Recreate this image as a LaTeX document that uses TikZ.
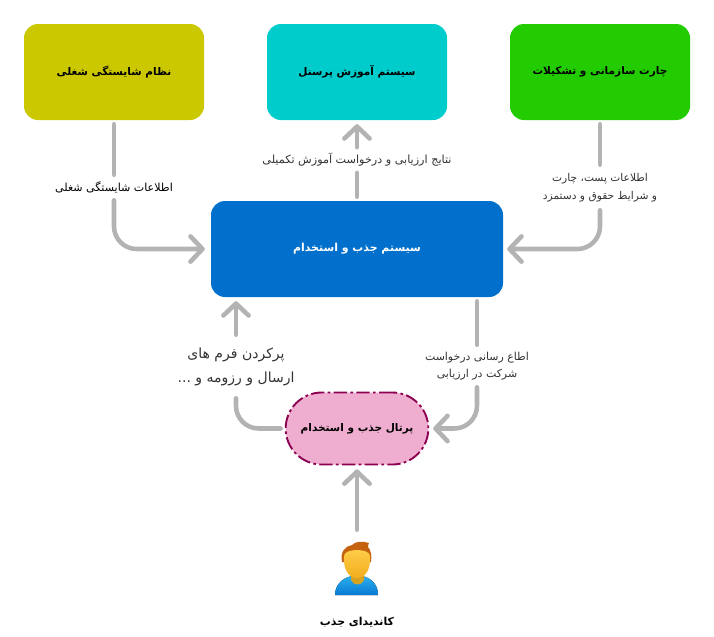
\documentclass[tikz,border=0pt]{standalone}
\usepackage{fontspec}
\usetikzlibrary{arrows.meta}
\setmainfont{DejaVu Sans}
\newfontfamily\arabicfont[Script=Arabic]{DejaVu Sans}
\TeXXeTstate=1
\newcommand{\fa}[1]{{\arabicfont\beginR #1\endR}}
\definecolor{yellowbox}{HTML}{CCC800}
\definecolor{cyanbox}{HTML}{00CCCC}
\definecolor{greenbox}{HTML}{22CC00}
\definecolor{bluebox}{HTML}{0070CC}
\definecolor{pinkbox}{HTML}{EFADD0}
\definecolor{pinkline}{HTML}{8B0050}
\definecolor{conncol}{HTML}{B3B3B3}
\definecolor{textcol}{HTML}{333333}
\definecolor{bodytop}{HTML}{2BB0EE}
\definecolor{bodybot}{HTML}{0A78D2}
\definecolor{neckcol}{HTML}{D6A420}
\definecolor{facetop}{HTML}{FFCE4A}
\definecolor{facebot}{HTML}{F2AE1E}
\definecolor{haircol}{HTML}{C4620F}
\pgfdeclarearrow{
  name = Chevron,
  parameters = {\the\pgfarrowlength,\the\pgfarrowwidth},
  setup code = {
    \pgfarrowssettipend{0.5\pgflinewidth}
    \pgfarrowssetlineend{0pt}
    \pgfarrowssavethe\pgfarrowlength
    \pgfarrowssavethe\pgfarrowwidth
  },
  drawing code = {
    \pgfsetroundcap\pgfsetroundjoin\pgfsetdash{}{0pt}
    \pgfpathmoveto{\pgfqpoint{-\pgfarrowlength}{0.5\pgfarrowwidth}}
    \pgfpathlineto{\pgfpointorigin}
    \pgfpathlineto{\pgfqpoint{-\pgfarrowlength}{-0.5\pgfarrowwidth}}
    \pgfusepathqstroke
  },
  defaults = {length=9pt, width=19pt}
}
\tikzset{
  sysbox/.style={rounded corners=10.5pt, minimum width=135pt, minimum height=72pt, inner sep=0pt, font=\fontsize{7.9}{10}\selectfont\bfseries},
  lbl/.style={inner sep=0pt, align=center, text=textcol, font=\fontsize{8.3}{13.5}\selectfont},
  conn/.style={draw=conncol, line width=3.4pt, line cap=round, rounded corners=17pt},
  tip/.style={-{Chevron}},
}
\begin{document}
\begin{tikzpicture}[x=0.75pt, y=-0.75pt]
  \useasboundingbox (0,0) rectangle (714,636);

  \node[sysbox, fill=yellowbox] (nezam) at (114,72) {\fa{نظام شایستگی شغلی}};
  \node[sysbox, fill=cyanbox] (amoozesh) at (357,72) {\fa{سیستم آموزش پرسنل}};
  \node[sysbox, fill=greenbox] (chart) at (600,72) {\fa{چارت سازمانی و تشکیلات}};
  \node[sysbox, fill=bluebox, text=white, minimum width=219pt, font=\fontsize{8.2}{10}\selectfont\bfseries] (jazb) at (357,249) {\fa{سیستم جذب و استخدام}};
  \node[fill=pinkbox, draw=pinkline, line width=1.4pt, dash pattern=on 10pt off 2.5pt on 2pt off 2.5pt,
    rounded corners=27pt, minimum width=107pt, minimum height=54pt, inner sep=0pt,
    font=\fontsize{7.9}{10}\selectfont\bfseries, text=black] (portal) at (357,428.5) {\fa{پرتال جذب و استخدام}};

  \node[lbl, text=black, minimum height=18.75pt] (lblnezam) at (114,187.5) {\fa{اطلاعات شایستگی شغلی}};
  \node[lbl, minimum height=18.75pt, font=\fontsize{8.4}{13.5}\selectfont] (lblamoozesh) at (357,160) {\fa{نتایج ارزیابی و درخواست آموزش تکمیلی}};
  \node[lbl, minimum height=33.75pt, font=\fontsize{8}{13.5}\selectfont] (lblchart) at (600,187.5) {\fa{اطلاعات پست، چارت}\\\fa{و شرایط حقوق و دستمزد}};
  \node[lbl, minimum height=47.25pt, font=\fontsize{10.5}{18}\selectfont] (lblform) at (236,366.5) {\fa{پرکردن فرم های}\\\fa{ارسال و رزومه و ...}};
  \node[lbl, minimum height=31.5pt, font=\fontsize{8.2}{12.5}\selectfont] (lblattend) at (477,366) {\fa{اطاع رسانی درخواست}\\\fa{شرکت در ارزیابی}};

  % candidate icon
  \node[minimum width=48pt, minimum height=58.5pt, inner sep=0pt] (cand) at (357,569) {};
  \fill[top color=bodytop, bottom color=bodybot] (335,595) .. controls (335,585) and (342,578) .. (352,576) -- (362,576) .. controls (372,578) and (378,585) .. (378,595) -- cycle;
  \fill[neckcol] (351,570) rectangle (364,580) (351,580) .. controls (353,586) and (362,586) .. (364,580) -- cycle;
  \fill[haircol] (342,562) .. controls (340,552) and (345,546) .. (352,545) .. controls (356,541) and (362,541) .. (369,543) .. controls (368,545) and (368,546) .. (368,547) .. controls (371,550) and (372,556) .. (371,562) -- cycle;
  \shade[top color=facetop, bottom color=facebot] (344,556) .. controls (344,548) and (370,548) .. (370,556) .. controls (371,570) and (365,578) .. (357,578) .. controls (349,578) and (343,570) .. (344,556) -- cycle;
  \node[lbl, text=black, font=\fontsize{8.2}{10}\selectfont\bfseries] (lblcand) at (357,622) {\fa{کاندیدای جذب}};

  \draw[conn, shorten <=3pt] (nezam.south) -- (lblnezam.north);
  \draw[conn, tip, shorten >=4.5pt] (lblnezam.south) |- (jazb.west);
  \draw[conn, shorten <=3pt] (chart.south) -- (lblchart.north);
  \draw[conn, tip, shorten >=3pt] (lblchart.south) |- (jazb.east);
  \draw[conn, shorten <=3pt] (jazb.north) -- (lblamoozesh.south);
  \draw[conn, tip, shorten >=3pt] (lblamoozesh.north) -- (amoozesh.south);
  \draw[conn, shorten <=3pt] (portal.west) -| (lblform.south);
  \draw[conn, tip, shorten >=3pt] (lblform.north) -- (lblform.north |- jazb.south);
  \draw[conn, shorten <=3pt] (lblattend.north |- jazb.south) -- (lblattend.north);
  \draw[conn, tip, shorten >=3pt] (lblattend.south) |- (portal.east);
  \draw[conn, tip, shorten >=3pt] (cand.north) -- (portal.south);
\end{tikzpicture}
\end{document}
